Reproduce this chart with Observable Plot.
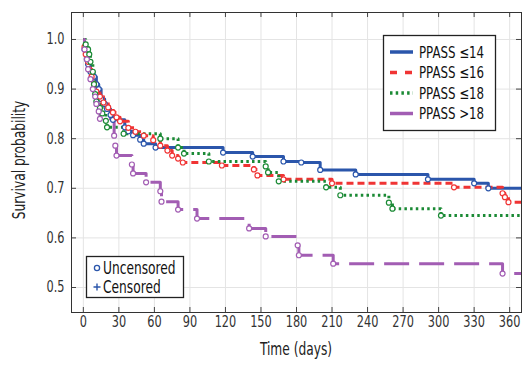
<!DOCTYPE html>
<html><head><meta charset="utf-8">
<script src="https://cdn.jsdelivr.net/npm/d3@7"></script>
<script src="https://cdn.jsdelivr.net/npm/@observablehq/plot@0.6"></script>
<style>body{margin:0;background:#fff;}#chart{position:relative;width:523px;height:368px;}</style>
</head><body><div id="chart"></div><script>
const FONT = '"Liberation Sans Narrow","DejaVu Sans Condensed","DejaVu Sans",sans-serif';
const groups = ["PPASS \u226414", "PPASS \u226416", "PPASS \u226418", "PPASS >18"];
const colors = ["#2b56ab", "#f03434", "#1b8a35", "#a25db3"];
const dashes = [null, "7,4", "2.5,3.2", "25,10"];

// Kaplan–Meier steps (days, survival)
const t14 = [0,1,3,4,6,9,11,13,15,18,20,23,25,35,38,42,48,51,61,118,143,169,184,200,230,291,330,342];
const s14 = [1.0,0.98,0.96,0.95,0.935,0.925,0.91,0.90,0.88,0.87,0.86,0.848,0.838,0.823,0.815,0.807,0.798,0.79,0.782,0.772,0.764,0.754,0.752,0.737,0.728,0.718,0.71,0.70];
const t16 = [0,1,2,4,5,7,9,11,14,17,21,25,28,31,38,44,51,59,65,71,75,80,84,117,144,147,169,210,313,354,356,359];
const s16 = [1.0,0.985,0.97,0.955,0.94,0.925,0.91,0.895,0.885,0.873,0.863,0.853,0.843,0.835,0.822,0.814,0.806,0.797,0.786,0.776,0.766,0.76,0.752,0.746,0.738,0.726,0.718,0.71,0.702,0.69,0.682,0.672];
const t18 = [0,2,4,5,6,8,9,10,11,14,16,19,20,34,65,80,85,106,154,156,165,205,217,258,261,302];
const s18 = [1.0,0.99,0.98,0.97,0.955,0.935,0.91,0.89,0.875,0.862,0.851,0.836,0.823,0.81,0.80,0.782,0.77,0.754,0.744,0.732,0.714,0.702,0.686,0.671,0.659,0.645];
const tGt18 = [0,1,3,4,6,8,10,11,13,14,26,27,28,41,42,53,65,66,80,96,140,154,181,182,211,354];
const sGt18 = [1.0,0.98,0.96,0.94,0.92,0.90,0.885,0.87,0.855,0.84,0.806,0.786,0.766,0.748,0.73,0.712,0.694,0.673,0.657,0.639,0.619,0.603,0.585,0.565,0.548,0.528];
const followUpEnd = 370;

const xTicks = [0,30,60,90,120,150,180,210,240,270,300,330,360];
const yTicks = [0.5,0.6,0.7,0.8,0.9,1.0];

const series = [[t14,s14],[t16,s16],[t18,s18],[tGt18,sGt18]];
const lines = series.map(([t,s], i) => {
  const rows = t.map((d,j) => ({g: groups[i], t: d, s: s[j]}));
  rows.push({g: groups[i], t: followUpEnd, s: s[s.length-1]});
  return rows;
});
const events = series.map(([t,s], i) => t.slice(1).map((d,j) => ({g: groups[i], t: d, s: s[j+1]})));

const W = 523, H = 368, ML = 71, MR = 2, MT = 12, MB = 56;
const pw = W - ML - MR, ph = H - MT - MB;

const marks = [
  Plot.gridX(xTicks, {stroke: "#e4e4e4", strokeOpacity: 1}),
  Plot.gridY(yTicks, {stroke: "#e4e4e4", strokeOpacity: 1}),
  Plot.tickX(xTicks, {x: d => d, insetTop: ph - 5, stroke: "#444"}),
  Plot.tickX(xTicks, {x: d => d, insetBottom: ph - 5, stroke: "#444"}),
  Plot.tickY(yTicks, {y: d => d, insetRight: pw - 5, stroke: "#444"}),
  Plot.tickY(yTicks, {y: d => d, insetLeft: pw - 5, stroke: "#444"}),
];
lines.forEach((rows, i) => {
  marks.push(Plot.line(rows, {x: "t", y: "s", curve: "step-after", stroke: colors[i], strokeWidth: 3, strokeDasharray: dashes[i], strokeLinecap: "butt", clip: true}));
});
events.forEach((rows, i) => {
  marks.push(Plot.dot(rows, {x: "t", y: "s", r: 2.5, stroke: colors[i], fill: "white", strokeWidth: 1.2}));
});
marks.push(
  Plot.axisX(xTicks, {tickSize: 0, tickPadding: 4, label: null, fontSize: 15, fill: "#333"}),
  Plot.axisY(yTicks, {tickSize: 0, tickPadding: 7, label: null, tickFormat: d3.format(".1f"), fontSize: 15, fill: "#333"}),
  Plot.frame({stroke: "#333", strokeWidth: 1})
);

const svgEl = Plot.plot({
  width: W, height: H,
  marginLeft: ML, marginRight: MR, marginTop: MT, marginBottom: MB,
  x: {domain: [-10, 370]},
  y: {domain: [0.4496, 1.0544]},
  style: {fontFamily: FONT, fontSize: "15px", background: "white", color: "#333"},
  marks
});
document.getElementById("chart").appendChild(svgEl);

const svg = d3.select(svgEl);
function squeeze(sel, f) {
  sel.each(function() {
    const L = this.getComputedTextLength();
    this.setAttribute("textLength", (L * f).toFixed(1));
    this.setAttribute("lengthAdjust", "spacingAndGlyphs");
  });
}
squeeze(svg.selectAll("g[aria-label='x-axis tick label'] text, g[aria-label='y-axis tick label'] text"), 0.84);

const xt = svg.append("text").attr("x", 296).attr("y", 355).attr("text-anchor", "middle")
  .attr("font-family", FONT).attr("font-size", 17).attr("fill", "#222").text("Time (days)");
const yt = svg.append("text").attr("transform", "translate(25,160) rotate(-90)").attr("text-anchor", "middle")
  .attr("font-family", FONT).attr("font-size", 17).attr("fill", "#222").text("Survival probability");
squeeze(xt, 0.8); squeeze(yt, 0.8);

// top-right legend
const lg = svg.append("g");
lg.append("rect").attr("x", 383.5).attr("y", 35.5).attr("width", 112).attr("height", 95)
  .attr("fill", "white").attr("stroke", "#222").attr("stroke-width", 1.3);
const legendDash = [null, "7,8", "2.5,3.2", null];
groups.forEach((g, i) => {
  const y = 52 + i * 20.5;
  lg.append("line").attr("x1", 390).attr("x2", 413).attr("y1", y).attr("y2", y)
    .attr("stroke", colors[i]).attr("stroke-width", 3.5).attr("stroke-dasharray", legendDash[i]);
  const t = lg.append("text").attr("x", 419).attr("y", y).attr("dy", "0.36em").attr("text-anchor", "start")
    .attr("font-family", FONT).attr("font-size", 16).attr("fill", "#111").text(g);
  squeeze(t, 0.82);
});

// bottom-left legend
const lb = svg.append("g");
lb.append("rect").attr("x", 86.5).attr("y", 256.5).attr("width", 97).attr("height", 41)
  .attr("fill", "white").attr("stroke", "#222").attr("stroke-width", 1.3);
lb.append("circle").attr("cx", 97).attr("cy", 268).attr("r", 2.6).attr("fill", "none").attr("stroke", colors[0]).attr("stroke-width", 1.3);
lb.append("path").attr("d", "M93.5,287H100.5M97,283.5V290.5").attr("stroke", colors[0]).attr("stroke-width", 1.4);
const u1 = lb.append("text").attr("x", 103).attr("y", 268).attr("dy", "0.36em").attr("text-anchor", "start").attr("font-family", FONT).attr("font-size", 17).attr("fill", "#111").text("Uncensored");
const u2 = lb.append("text").attr("x", 103).attr("y", 287).attr("dy", "0.36em").attr("text-anchor", "start").attr("font-family", FONT).attr("font-size", 17).attr("fill", "#111").text("Censored");
squeeze(u1, 0.8); squeeze(u2, 0.8);
</script></body></html>
